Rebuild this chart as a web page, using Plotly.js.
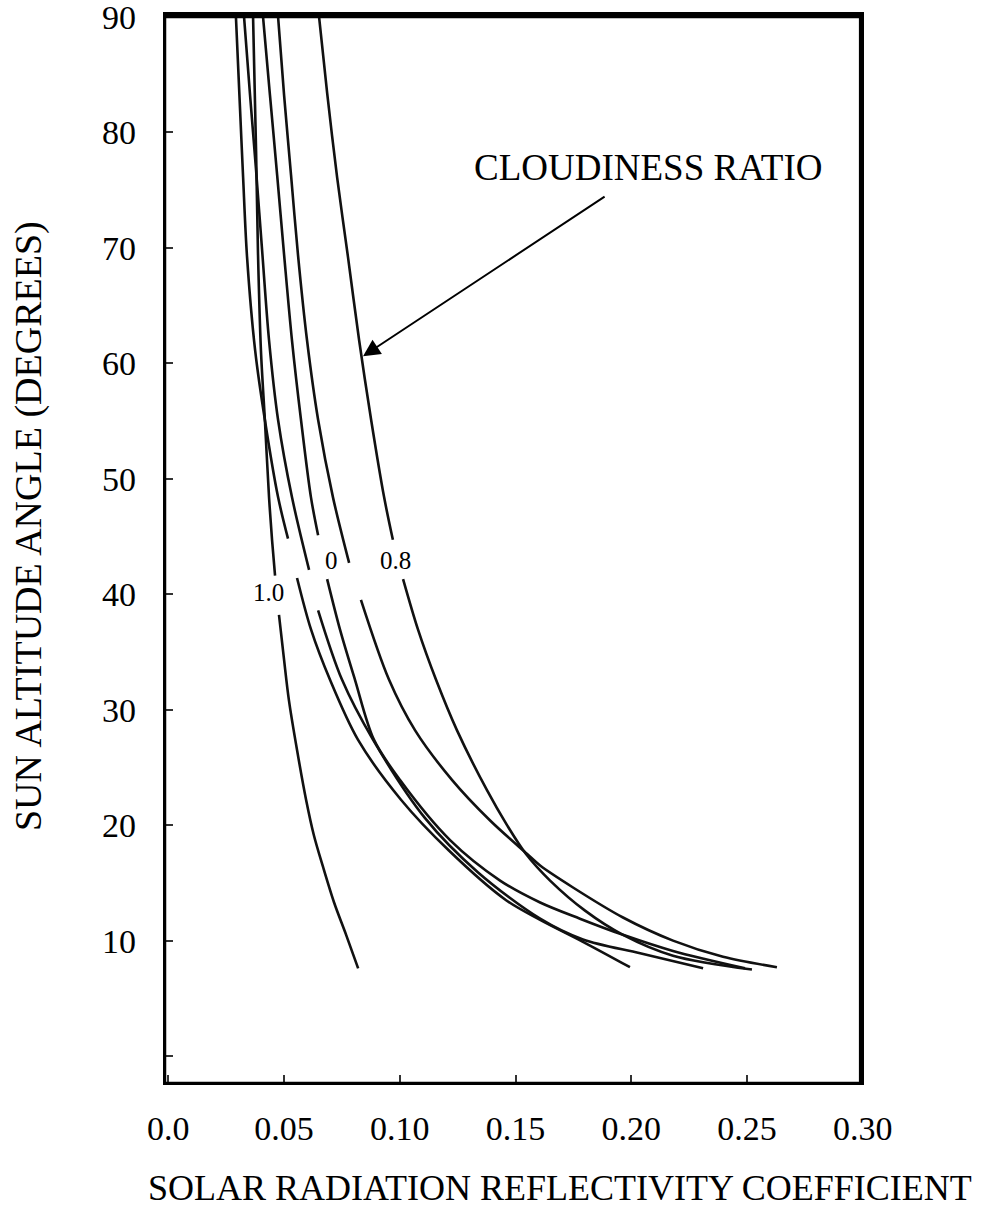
<!DOCTYPE html>
<html>
<head>
<meta charset="utf-8">
<script src="https://cdn.plot.ly/plotly-3.0.1.min.js"></script>
<style>
  html, body { margin: 0; padding: 0; background: #fff; }
  #chart { width: 984px; height: 1213px; }
</style>
</head>
<body>
<div id="chart"></div>
<script>
// Reflectivity of a water surface against sun altitude, one curve per cloudiness ratio.
// Each curve is broken once (null) where its label sits.

const xTickVals = [0, 0.05, 0.10, 0.15, 0.20, 0.25, 0.30];
const xTickText = ['0.0', '0.05', '0.10', '0.15', '0.20', '0.25', '0.30'];
const yTickVals = [0, 10, 20, 30, 40, 50, 60, 70, 80, 90];
const yTickText = ['', '10', '20', '30', '40', '50', '60', '70', '80', '90'];

// cloudiness ratio 1.0
const ratio10X = [0.0366, 0.0379, 0.0387, 0.0400, 0.0417, 0.0435, 0.0448, 0.0461, null,
                  0.0478, 0.0500, 0.0521, 0.0556, 0.0595, 0.0629, 0.0668, 0.0716, 0.0768, 0.0820];
const ratio10Y = [90.0, 78.4, 69.8, 61.1, 55.1, 48.4, 44.7, 41.6, null,
                  38.2, 34.3, 30.8, 26.5, 22.2, 19.1, 16.4, 13.3, 10.5, 7.6];

// unlabelled curve ending at 0.20
const curveAX = [0.0292, 0.0310, 0.0323, 0.0340, 0.0375, 0.0417, 0.0474, 0.0517, null,
                 0.0556, 0.0617, 0.0698, 0.0819, 0.1005, 0.1212, 0.1459, 0.1606, 0.1791, 0.1994];
const curveAY = [90.0, 81.9, 76.1, 69.2, 61.1, 55.1, 48.4, 44.8, null,
                 41.4, 36.9, 32.6, 27.4, 22.2, 17.8, 13.5, 11.8, 9.9, 7.7];

// unlabelled curve ending near 0.23
const curveBX = [0.0327, 0.0353, 0.0379, 0.0405, 0.0435, 0.0474, 0.0534, 0.0608, null,
                 0.0647, 0.0750, 0.0884, 0.1109, 0.1338, 0.1606, 0.1791, 0.2038, 0.2310];
const curveBY = [90.0, 83.2, 76.7, 69.8, 62.0, 55.1, 48.4, 42.1, null,
                 38.6, 32.6, 27.4, 20.6, 15.9, 11.9, 10.1, 8.9, 7.6];

// cloudiness ratio 0
const ratio0X = [0.0409, 0.0439, 0.0470, 0.0500, 0.0534, 0.0573, 0.0616, 0.0647, null,
                 0.0686, 0.0742, 0.0806, 0.0888, 0.1001, 0.1217, 0.1433, 0.1606, 0.1778, 0.1964, 0.2180, 0.2491];
const ratio0Y = [90.0, 83.2, 76.3, 69.4, 62.0, 55.1, 48.4, 45.1, null,
                 41.3, 36.9, 32.6, 27.4, 23.9, 18.7, 15.2, 13.3, 11.9, 10.5, 9.1, 7.6];

// unlabelled curve ending near 0.265
const curveCX = [0.0474, 0.0500, 0.0530, 0.0560, 0.0599, 0.0647, 0.0711, 0.0781, null,
                 0.0832, 0.0953, 0.1066, 0.1226, 0.1390, 0.1550, 0.1606, 0.1748, 0.1964, 0.2180, 0.2396, 0.2629];
const curveCY = [90.0, 83.2, 76.3, 69.4, 62.0, 55.1, 48.4, 42.7, null,
                 39.5, 32.6, 28.2, 23.9, 20.4, 17.5, 16.5, 14.6, 12.0, 10.0, 8.6, 7.7];

// cloudiness ratio 0.8
const ratio08X = [0.0651, 0.0686, 0.0729, 0.0776, 0.0824, 0.0876, 0.0932, 0.0970, null,
                  0.1014, 0.1079, 0.1156, 0.1247, 0.1377, 0.1463, 0.1545, 0.1649, 0.1800, 0.1964, 0.2180, 0.2521];
const ratio08Y = [90.0, 83.4, 76.1, 69.2, 62.0, 55.1, 48.4, 44.7, null,
                  41.3, 36.9, 32.6, 28.2, 23.0, 20.0, 17.5, 15.2, 12.6, 10.5, 8.7, 7.5];

const serif = 'Liberation Serif, Times New Roman, serif';
const ink = '#111';

function curve(x, y) {
  return {
    x: x, y: y, type: 'scatter', mode: 'lines', connectgaps: false,
    line: { color: ink, width: 2.6, shape: 'spline', smoothing: 0.9 },
    hoverinfo: 'skip', showlegend: false
  };
}

const traces = [
  curve(ratio10X, ratio10Y),
  curve(curveAX, curveAY),
  curve(curveBX, curveBY),
  curve(ratio0X, ratio0Y),
  curve(curveCX, curveCY),
  curve(ratio08X, ratio08Y)
];

const layout = {
  width: 984, height: 1213,
  margin: { l: 163, r: 120, t: 11.5, b: 128 },
  paper_bgcolor: '#fff', plot_bgcolor: '#fff',
  font: { family: serif, color: '#000' },
  showlegend: false,
  xaxis: {
    range: [-0.0023, 0.3005], showgrid: false, zeroline: false, showline: false,
    tickmode: 'array', tickvals: xTickVals, ticktext: xTickText,
    ticks: 'inside', ticklen: 10, tickwidth: 2, tickcolor: '#333',
    tickfont: { family: serif, size: 34, color: '#000' },
    ticklabelstandoff: 20, ticklabeloverflow: 'allow'
  },
  yaxis: {
    range: [-2.5, 90.4], showgrid: false, zeroline: false, showline: false,
    tickmode: 'array', tickvals: yTickVals, ticktext: yTickText,
    ticks: 'inside', ticklen: 10, tickwidth: 2, tickcolor: '#333',
    tickfont: { family: serif, size: 34, color: '#000' },
    ticklabelstandoff: 26, ticklabeloverflow: 'allow'
  },
  shapes: [{
    type: 'rect', xref: 'x', yref: 'y', x0: -0.0023, x1: 0.2997, y0: -2.5, y1: 90.13,
    line: { color: '#000', width: 6.5 }, layer: 'above'
  }],
  annotations: [
    { text: 'SOLAR RADIATION REFLECTIVITY COEFFICIENT', xref: 'paper', yref: 'paper',
      x: 0.566, y: -0.0963, xanchor: 'center', yanchor: 'middle', showarrow: false,
      font: { family: serif, size: 36, color: '#000' } },
    { text: 'SUN ALTITUDE ANGLE (DEGREES)', xref: 'paper', yref: 'paper',
      x: -0.1917, y: 0.5206, xanchor: 'center', yanchor: 'middle', textangle: -90, showarrow: false,
      font: { family: serif, size: 38, color: '#000' } },
    { text: 'CLOUDINESS RATIO', xref: 'x', yref: 'y', x: 0.207, y: 76.9,
      xanchor: 'center', yanchor: 'middle', showarrow: false,
      font: { family: serif, size: 37, color: '#000' } },
    { text: '', xref: 'x', yref: 'y', x: 0.0841, y: 60.6,
      axref: 'x', ayref: 'y', ax: 0.1891, ay: 74.5,
      showarrow: true, arrowhead: 2, arrowsize: 1.7, arrowwidth: 2, arrowcolor: '#000' },
    { text: '1.0', xref: 'x', yref: 'y', x: 0.0431, y: 40.1, showarrow: false,
      font: { family: serif, size: 25, color: '#000' } },
    { text: '0', xref: 'x', yref: 'y', x: 0.0705, y: 42.9, showarrow: false,
      font: { family: serif, size: 25, color: '#000' } },
    { text: '0.8', xref: 'x', yref: 'y', x: 0.0981, y: 42.9, showarrow: false,
      font: { family: serif, size: 25, color: '#000' } }
  ]
};

Plotly.newPlot('chart', traces, layout, { staticPlot: true, displayModeBar: false });
</script>
</body>
</html>
